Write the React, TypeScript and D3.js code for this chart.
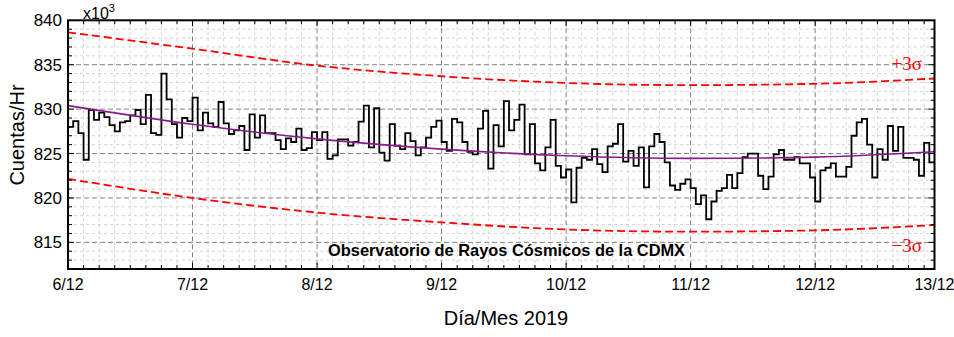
import React from "react";
import * as d3 from "d3";

// Hourly counts (x10^3 counts/hr), one array per day starting 6/12 00:00
const day1 = [828.0, 828.65, 827.3, 824.3, 829.9, 828.8, 829.6, 829.1, 828.2, 827.5, 828.5, 828.65, 829.3, 829.9, 828.3, 831.6, 827.3, 827.1, 834.0, 831.1, 828.3, 826.8, 829.0, 828.65];
const day2 = [831.3, 827.6, 829.6, 828.4, 828.0, 830.8, 828.4, 827.2, 827.6, 828.1, 825.4, 829.4, 826.8, 829.3, 827.3, 827.3, 826.5, 825.5, 826.7, 826.3, 827.8, 825.4, 825.6, 827.4];
const day3 = [826.5, 827.4, 824.4, 824.8, 826.6, 826.6, 825.9, 826.3, 828.6, 830.4, 825.7, 830.1, 825.1, 824.2, 828.3, 825.9, 825.5, 827.3, 826.4, 824.8, 825.7, 826.8, 828.0, 828.7];
const day4 = [826.3, 825.3, 828.9, 828.5, 826.3, 825.2, 824.9, 827.8, 829.8, 823.3, 828.2, 825.8, 830.9, 827.6, 828.8, 830.5, 824.9, 828.3, 823.9, 823.1, 825.7, 828.8, 823.6, 822.3];
const day5 = [823.2, 819.5, 823.4, 824.5, 824.3, 825.5, 823.8, 822.9, 825.8, 826.1, 828.3, 824.1, 825.3, 823.6, 825.7, 821.2, 825.8, 827.2, 826.3, 824.0, 821.4, 820.9, 821.6, 822.1];
const day6 = [821.1, 819.3, 820.3, 817.6, 819.6, 820.8, 821.1, 822.6, 821.1, 822.8, 824.6, 825.0, 825.0, 822.5, 821.0, 822.4, 824.9, 825.4, 824.3, 824.3, 824.6, 823.9, 823.9, 822.3];
const day7 = [819.6, 823.1, 823.4, 823.9, 822.4, 822.4, 823.5, 827.0, 828.5, 828.9, 826.0, 822.3, 825.5, 824.3, 828.1, 825.3, 828.0, 824.5, 824.5, 824.3, 822.5, 826.2, 824.0];

// Fit curve and ±3σ bands, read at daily hours
const fitHours = [0, 24, 48, 72, 96, 120, 144, 167];
const fitValues = [830.4, 828.3, 826.65, 825.5, 824.75, 824.45, 824.6, 825.2];
const upperValues = [838.65, 836.8, 834.9, 833.7, 832.95, 832.7, 832.85, 833.45];
const lowerValues = [822.15, 820.0, 818.35, 817.25, 816.45, 816.2, 816.35, 816.95];

const dayTickHours = [0, 24, 48, 72, 96, 120, 144, 167];
const dayTickLabels = ["6/12", "7/12", "8/12", "9/12", "10/12", "11/12", "12/12", "13/12"];
const yMajorTicks = [815, 820, 825, 830, 835, 840];

const W = 954, H = 337;
const L = 68, R = 934.5, T = 20.3, B = 269;

export default function App() {
  const counts = [...day1, ...day2, ...day3, ...day4, ...day5, ...day6, ...day7];
  const x = d3.scaleLinear().domain([0, 167]).range([L, R]);
  const y = d3.scaleLinear().domain([812, 840]).range([B, T]);

  const stepPts: [number, number][] = counts.map((v, i) => [i, v]);
  stepPts.push([counts.length, counts[counts.length - 1]]);
  const stepLine = d3.line<[number, number]>().x(d => x(d[0])).y(d => y(d[1])).curve(d3.curveStepAfter);
  const smooth = (vals: number[]) =>
    d3.line<number>().x((_, i) => x(fitHours[i])).y(d => y(d)).curve(d3.curveMonotoneX)(vals) || "";

  const minorX = d3.range(0, 167, 3);
  const minorY = d3.range(813, 840, 1);

  return (
    <svg width={W} height={H} style={{ position: "absolute", left: 0, top: 0, background: "#fff" }}
      fontFamily="'Liberation Sans', Arial, sans-serif">
      <defs>
        <clipPath id="plot"><rect x={L} y={T} width={R - L} height={B - T} /></clipPath>
      </defs>
      {/* minor grid */}
      <g stroke="#d4d4d4" strokeWidth={1} strokeDasharray="3,3">
        {minorX.filter(h => h % 24 !== 0).map(h => (
          <line key={"mx" + h} x1={x(h)} x2={x(h)} y1={T} y2={B} />
        ))}
        {minorY.filter(v => v % 5 !== 0).map(v => (
          <line key={"my" + v} x1={L} x2={R} y1={y(v)} y2={y(v)} />
        ))}
      </g>
      {/* major grid */}
      <g stroke="#808080" strokeWidth={1} strokeDasharray="5,3">
        {dayTickHours.slice(1, 7).map(h => (
          <line key={"Mx" + h} x1={x(h)} x2={x(h)} y1={T} y2={B} />
        ))}
        {yMajorTicks.slice(0, 5).map(v => (
          <line key={"My" + v} x1={L} x2={R} y1={y(v)} y2={y(v)} />
        ))}
      </g>
      <g clipPath="url(#plot)" fill="none">
        <path d={smooth(upperValues)} stroke="#ff0000" strokeWidth={1.8} strokeDasharray="8,4" />
        <path d={smooth(lowerValues)} stroke="#ff0000" strokeWidth={1.8} strokeDasharray="8,4" />
        <path d={stepLine(stepPts) || ""} stroke="#000" strokeWidth={1.8} />
        <path d={smooth(fitValues)} stroke="#8b1a8b" strokeWidth={1.6} />
      </g>
      {/* ticks */}
      <g stroke="#000" strokeWidth={1}>
        {minorX.map(h => {
          const major = h % 24 === 0;
          const len = major ? 6 : 4;
          return (
            <g key={"t" + h}>
              <line x1={x(h)} x2={x(h)} y1={B} y2={B - len} />
              <line x1={x(h)} x2={x(h)} y1={T} y2={T + len} />
            </g>
          );
        })}
        {d3.range(813, 840, 1).map(v => {
          const len = v % 5 === 0 ? 6 : 4;
          return (
            <g key={"yt" + v}>
              <line x1={L} x2={L + len} y1={y(v)} y2={y(v)} />
              <line x1={R} x2={R - len} y1={y(v)} y2={y(v)} />
            </g>
          );
        })}
      </g>
      <rect x={L} y={T} width={R - L} height={B - T} fill="none" stroke="#000" strokeWidth={2} />
      {/* tick labels */}
      <g fontSize={16} textAnchor="middle" fill="#000">
        {dayTickHours.map((h, i) => (
          <text key={"xl" + i} x={x(h)} y={290}>{dayTickLabels[i]}</text>
        ))}
      </g>
      <g fontSize={17} textAnchor="end" fill="#000">
        {yMajorTicks.map(v => (
          <text key={"yl" + v} x={62} y={y(v) + 6}>{v}</text>
        ))}
      </g>
      <text x={83} y={19} fontSize={16}>x10<tspan dy={-7} fontSize={11}>3</tspan></text>
      <text x={506} y={325} fontSize={20} textAnchor="middle">Día/Mes 2019</text>
      <text transform={`translate(24,135) rotate(-90)`} fontSize={20} textAnchor="middle">Cuentas/Hr</text>
      <text x={328} y={256} fontSize={16.4} fontWeight="bold">Observatorio de Rayos Cósmicos de la CDMX</text>
      <text x={922} y={70} fontSize={19} textAnchor="end" fill="#ff0000" fontFamily="'Liberation Serif', 'Times New Roman', serif">+3σ</text>
      <text x={922} y={252} fontSize={19} textAnchor="end" fill="#ff0000" fontFamily="'Liberation Serif', 'Times New Roman', serif">−3σ</text>
    </svg>
  );
}
